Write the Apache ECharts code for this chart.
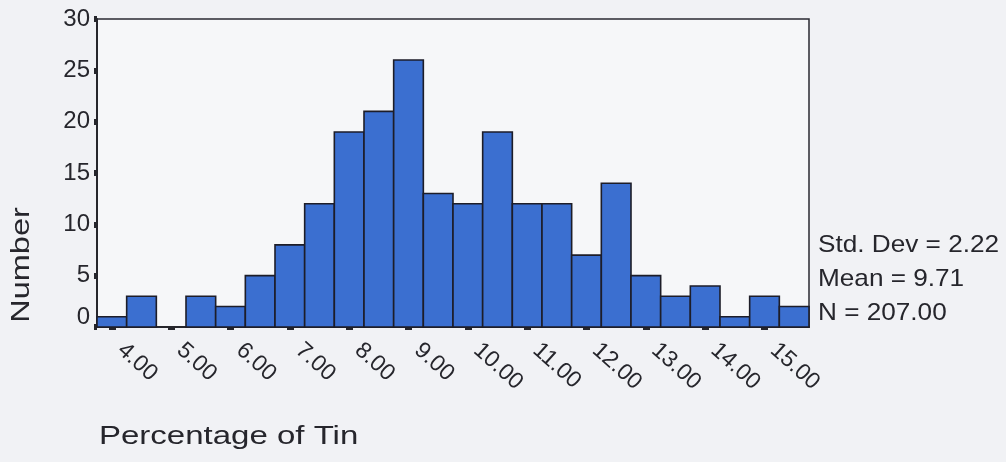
<!DOCTYPE html>
<html>
<head>
<meta charset="utf-8">
<script src="https://cdn.jsdelivr.net/npm/echarts@6/dist/echarts.min.js"></script>
<style>
html,body{margin:0;padding:0;background:#f2f3f5;}
#c{width:1006px;height:462px;}
</style>
</head>
<body>
<div id="c"></div>
<script>
// ---- data ----
const binCenters = [4.0, 4.5, 5.0, 5.5, 6.0, 6.5, 7.0, 7.5, 8.0, 8.5, 9.0, 9.5,
                    10.0, 10.5, 11.0, 11.5, 12.0, 12.5, 13.0, 13.5, 14.0, 14.5, 15.0, 15.5];
const counts = [1, 3, 0, 3, 2, 5, 8, 12, 19, 21, 26, 13,
                12, 19, 12, 12, 7, 14, 5, 3, 4, 1, 3, 2];
const binWidth = 0.5;
const xTickValues = [4, 5, 6, 7, 8, 9, 10, 11, 12, 13, 14, 15];
const yMax = 30;
const yStep = 5;
const statLines = ['Std. Dev = 2.22', 'Mean = 9.71', 'N = 207.00'];
const xTitle = 'Percentage of Tin';
const yTitle = 'Number';

// ---- chart ----
const FONT = '"Liberation Sans", Arial, sans-serif';
const INK = '#26262c';
const chart = echarts.init(document.getElementById('c'), null, {renderer: 'canvas'});

const seriesData = binCenters.map((c, i) => [c, counts[i]]);

chart.setOption({
  backgroundColor: '#f1f2f5',
  animation: false,
  grid: {
    left: 97, right: 197, top: 19, bottom: 135,
    show: true, backgroundColor: '#f6f7f9',
    borderColor: '#2a2a32', borderWidth: 1.5
  },
  xAxis: {
    type: 'value',
    min: binCenters[0] - binWidth / 2,
    max: binCenters[binCenters.length - 1] + binWidth / 2,
    splitLine: {show: false},
    axisLine: {show: true, onZero: false, lineStyle: {color: INK, width: 2}},
    axisTick: {show: true, customValues: xTickValues, length: 3, lineStyle: {color: INK, width: 7}},
    axisLabel: {
      customValues: xTickValues, rotate: -42, margin: 12,
      padding: [0, 0, 0, 12],
      color: INK, fontFamily: FONT, fontSize: 23,
      formatter: v => v.toFixed(2)
    }
  },
  yAxis: {
    type: 'value', min: 0, max: yMax, interval: yStep,
    splitLine: {show: false},
    axisLine: {show: true, lineStyle: {color: INK, width: 2}},
    axisTick: {show: true, length: 3, lineStyle: {color: INK, width: 6}},
    axisLabel: {
      color: INK, fontFamily: FONT, fontSize: 24, margin: 7,
      formatter: v => v === 0 ? '{z|0}' : String(v),
      rich: {z: {color: INK, fontFamily: FONT, fontSize: 24, padding: [0, 0, 20, 0]}}
    }
  },
  series: [{
    type: 'custom',
    data: seriesData,
    encode: {x: 0, y: 1},
    renderItem: function (params, api) {
      const c = api.value(0), v = api.value(1);
      if (!v) return null;
      const p0 = api.coord([c - binWidth / 2, v]);
      const p1 = api.coord([c + binWidth / 2, 0]);
      return {
        type: 'rect',
        shape: {x: p0[0], y: p0[1], width: p1[0] - p0[0], height: p1[1] - p0[1]},
        style: {fill: '#3b6fd0', stroke: '#1d1d28', lineWidth: 1.6}
      };
    }
  }],
  graphic: [
    {type: 'text', x: 22, y: 265, rotation: Math.PI / 2, scaleX: 1.25,
     style: {text: yTitle, font: '26px ' + FONT, fill: INK, align: 'center', verticalAlign: 'middle'}},
    {type: 'text', x: 99, y: 437, scaleX: 1.32,
     style: {text: xTitle, font: '25px ' + FONT, fill: INK, align: 'left', verticalAlign: 'middle'}}
  ].concat(statLines.map((t, i) => ({
    type: 'text', x: 818, y: 245 + i * 34, scaleX: 1.09,
    style: {text: t, font: '24px ' + FONT, fill: INK, align: 'left', verticalAlign: 'middle'}
  })))
});
</script>
</body>
</html>
